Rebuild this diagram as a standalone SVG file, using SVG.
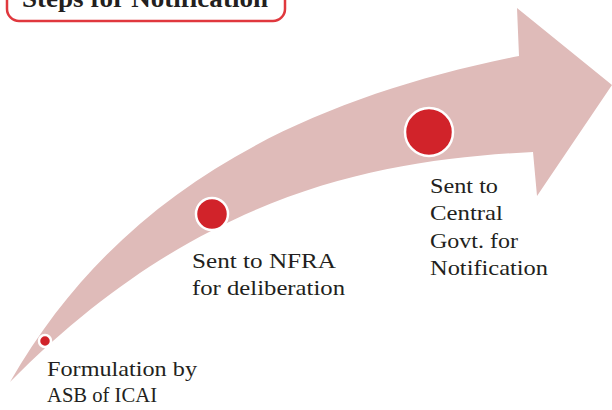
<svg xmlns="http://www.w3.org/2000/svg" width="612" height="410" viewBox="0 0 612 410">
<style>
.lbl{font-family:"Liberation Serif","DejaVu Serif",serif;font-size:22px;fill:#231f20}
.dot{fill:#d1232a;stroke:#ffffff;stroke-width:2.5}
</style>
<rect width="612" height="410" fill="#ffffff"/>
<g id="arrow">
<path d="M10,382 C120,190 300,100 519,56 L517,8 L612,85 L537,196 L533,152 C380,160 200,190 10,382 Z" fill="#dfbbb9"/>
</g>
<g id="title">
<rect x="7" y="-14" width="278" height="35" rx="12" fill="#ffffff" stroke="#e0383e" stroke-width="2.5"/>
<text x="22" y="7" font-family="Liberation Serif,serif" font-weight="bold" font-size="25" fill="#231f20" textLength="246" lengthAdjust="spacingAndGlyphs">Steps for Notification</text>
</g>
<g id="step1">
<circle class="dot" cx="45" cy="341" r="6"/>
<text class="lbl" x="47" y="376" textLength="150" lengthAdjust="spacingAndGlyphs">Formulation by</text>
<text class="lbl" x="47" y="402" textLength="110" lengthAdjust="spacingAndGlyphs">ASB of ICAI</text>
</g>
<g id="step2">
<circle class="dot" cx="212" cy="214" r="16"/>
<text class="lbl" x="192" y="268" textLength="144" lengthAdjust="spacingAndGlyphs">Sent to NFRA</text>
<text class="lbl" x="192" y="295" textLength="153" lengthAdjust="spacingAndGlyphs">for deliberation</text>
</g>
<g id="step3">
<circle class="dot" cx="429" cy="132" r="24"/>
<text class="lbl" x="430" y="193" textLength="68" lengthAdjust="spacingAndGlyphs">Sent to</text>
<text class="lbl" x="430" y="220" textLength="73" lengthAdjust="spacingAndGlyphs">Central</text>
<text class="lbl" x="430" y="248" textLength="88" lengthAdjust="spacingAndGlyphs">Govt. for</text>
<text class="lbl" x="430" y="275" textLength="118" lengthAdjust="spacingAndGlyphs">Notification</text>
</g>
</svg>
